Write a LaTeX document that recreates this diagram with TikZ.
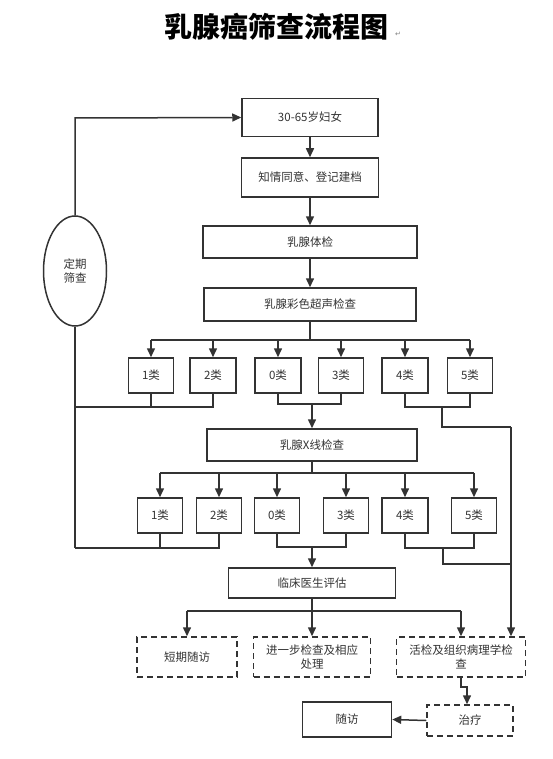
\documentclass[tikz,border=0pt]{standalone}
\usepackage{fontspec}
\newfontfamily\cjk{Noto Sans CJK SC}
\newfontfamily\dejavu{DejaVu Sans}
\usetikzlibrary{arrows.meta,shapes.geometric}
\definecolor{ink}{HTML}{333333}
\begin{document}
\begin{tikzpicture}[x=1pt,y=-1pt,
  line/.style={draw=ink,line width=1.5pt},
  arr/.style={line,-{Triangle[length=9pt,width=8pt]}},
  box/.style={draw=ink,line width=1.5pt,inner sep=0pt,text=ink,font=\cjk\fontsize{11.5}{14.5}\selectfont,align=center},
  dbox/.style={box,dash pattern=on 6pt off 4pt},
]
\useasboundingbox (0,0) rectangle (552,759);
\node[font=\cjk\bfseries\fontsize{28}{30}\selectfont,text=black] (title) at (276,27) {乳腺癌筛查流程图};
\node[font=\dejavu\fontsize{7}{8}\selectfont,text=gray] (pm) at (398,34) {↵};

\node[box,minimum width=136pt,minimum height=38pt] (n1) at (310,117.5) {30-65岁妇女};
\node[box,minimum width=137pt,minimum height=39pt] (n2) at (310,177.5) {知情同意、登记建档};
\node[box,minimum width=214pt,minimum height=32pt] (n3) at (310,242) {乳腺体检};
\node[box,minimum width=212pt,minimum height=33pt] (n4) at (310,304.5) {乳腺彩色超声检查};
\node[draw=ink,line width=1.5pt,ellipse,minimum width=63pt,minimum height=110pt,inner sep=0pt,text=ink,font=\cjk\fontsize{11.5}{14.5}\selectfont,align=center] (ell) at (75,271) {定期\\筛查};

\foreach \n/\x/\w in {a1/151/45,a2/213/46,a0/278/46,a3/341/45,a4/405/46,a5/470/45}
  \node[box,minimum width=\w pt,minimum height=35pt] (\n) at (\x,375.5) {};
\node[box,draw=none] at (a1) {1类};
\node[box,draw=none] at (a2) {2类};
\node[box,draw=none] at (a0) {0类};
\node[box,draw=none] at (a3) {3类};
\node[box,draw=none] at (a4) {4类};
\node[box,draw=none] at (a5) {5类};

\node[box,minimum width=210pt,minimum height=32pt] (xr) at (312,445) {乳腺X线检查};

\foreach \n/\x/\w in {b1/160/45,b2/219/45,b0/277/45,b3/346/45,b4/405/46,b5/474/45}
  \node[box,minimum width=\w pt,minimum height=35pt] (\n) at (\x,515.5) {};
\node[box,draw=none] at (b1) {1类};
\node[box,draw=none] at (b2) {2类};
\node[box,draw=none] at (b0) {0类};
\node[box,draw=none] at (b3) {3类};
\node[box,draw=none] at (b4) {4类};
\node[box,draw=none] at (b5) {5类};

\node[box,minimum width=167pt,minimum height=30pt] (cl) at (312,583) {临床医生评估};
\node[dbox,minimum width=100pt,minimum height=40pt] (d1) at (187,657) {短期随访};
\node[dbox,minimum width=117pt,minimum height=40pt] (d2) at (312,657) {进一步检查及相应\\处理};
\node[dbox,minimum width=129pt,minimum height=40pt] (d3) at (461,657) {活检及组织病理学检\\查};
\node[dbox,minimum width=86pt,minimum height=31pt] (tr) at (470,720.5) {治疗};
\node[box,minimum width=89pt,minimum height=35pt] (fu) at (347,719.5) {随访};

% coordinates
\coordinate (r1) at (310,340);
\coordinate (j12) at (0,407);
\coordinate (j03) at (312,404);
\coordinate (j45) at (0,407);
\coordinate (k45) at (442,427);
\coordinate (vx) at (511,427);
\coordinate (r2) at (312,473);
\coordinate (m12) at (0,548);
\coordinate (m03) at (312,547);
\coordinate (m45) at (443,564);
\coordinate (r3) at (312,611);
\coordinate (loopTop) at (75,118);
\coordinate (loopBot) at (75,548);
\coordinate (t1) at (461,687);
\coordinate (t2) at (467,687);

% vertical chain
\draw[arr] (n1) -- (n2);
\draw[arr] (n2) -- (n3);
\draw[arr] (n3) -- (n4);

% loop
\draw[arr] (ell.north) -- (loopTop) -- (n1.west);
\draw[line] (ell.south) -- (loopBot);

% ultrasound branch
\draw[line] (n4.south) -- (r1);
\draw[line] (a1.north |- r1) -- (a5.north |- r1);
\foreach \n in {a1,a2,a0,a3,a4,a5} \draw[arr] (\n.north |- r1) -- (\n.north);

% ultrasound results
\draw[line] (a1.south) -- (a1.south |- j12);
\draw[line] (a2.south) -- (a2.south |- j12) -- (75,407);
\draw[line] (a0.south) -- (a0.south |- j03) -- (a3.south |- j03) -- (a3.south);
\draw[arr] (j03) -- (xr.north);
\draw[line] (a4.south) -- (a4.south |- j45) -- (a5.south |- j45) -- (a5.south);
\draw[line] (442,407) -- (k45) -- (vx);
\draw[arr] (vx) -- (vx |- d3.north);

% X-ray branch
\draw[line] (xr.south) -- (r2);
\draw[line] (b1.north |- r2) -- (b5.north |- r2);
\foreach \n in {b1,b2,b0,b3,b4,b5} \draw[arr] (\n.north |- r2) -- (\n.north);

% X-ray results
\draw[line] (b1.south) -- (b1.south |- m12);
\draw[line] (b2.south) -- (b2.south |- m12) -- (loopBot);
\draw[line] (b0.south) -- (b0.south |- m03) -- (b3.south |- m03) -- (b3.south);
\draw[arr] (m03) -- (cl.north);
\draw[line] (b4.south) -- (b4.south |- 0,548) -- (b5.south |- 0,548) -- (b5.south);
\draw[line] (443,548) -- (m45) -- (511,564);

% clinical evaluation branch
\draw[line] (cl.south) -- (r3);
\draw[line] (d1.north |- r3) -- (d3.north |- r3);
\draw[arr] (d1.north |- r3) -- (d1.north);
\draw[arr] (r3) -- (d2.north);
\draw[arr] (d3.north |- r3) -- (d3.north);

% biopsy -> treatment -> follow-up
\draw[arr] (d3.south) -- (t1) -- (t2) -- (t2 |- tr.north);
\draw[arr] (tr.west) -- (fu.east);
\end{tikzpicture}
\end{document}
